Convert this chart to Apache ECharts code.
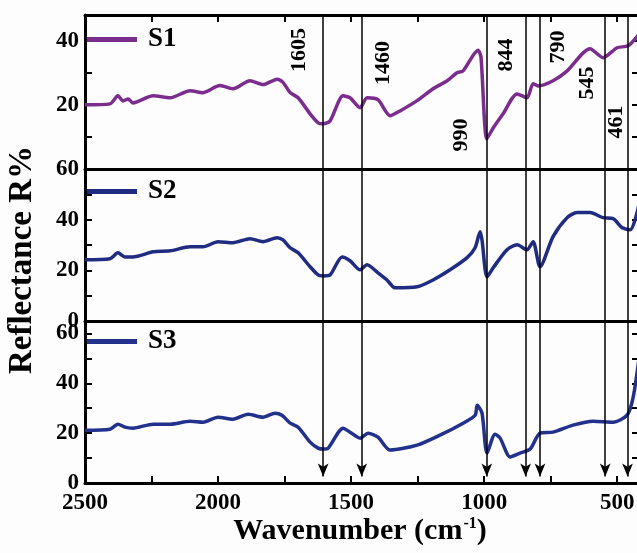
<!DOCTYPE html>
<html><head><meta charset="utf-8">
<script src="https://cdn.jsdelivr.net/npm/echarts@6/dist/echarts.min.js"></script>
<style>html,body{margin:0;padding:0;background:#fdfdfe}#c{width:637px;height:553px}</style>
</head><body><div id="c"></div>
<script>
// ---------- data ----------
const wnS1 = [2500,2406,2376,2357,2338,2320,2244,2180,2105,2056,1993,1944,1880,1831,1778,1756,1729,1699,1654,1624,1605,1579,1530,1504,1466,1440,1399,1353,1316,1252,1192,1139,1102,1079,1023,1012,990,966,929,876,839,816,797,741,688,602,553,500,459,418];
const valS1 = [20,20.3,22.8,21.2,21.8,20.6,22.8,22.2,24.4,23.8,26,25,27.5,26.3,28,27,23.8,22.2,17.2,14.4,14.1,15,22.8,22.2,19.1,22.2,21.6,16.6,18.1,21.3,25,27.5,30,30.6,37,35,9.4,12.8,17.2,23.4,22.2,26.6,25.9,27.5,30.6,37.5,34.7,37.8,38.4,42];
const wnS2 = [2500,2406,2376,2350,2320,2244,2180,2105,2056,2000,1944,1880,1831,1778,1756,1729,1699,1654,1624,1605,1579,1534,1504,1466,1440,1399,1365,1335,1252,1192,1128,1064,1034,1015,1008,989,966,914,876,839,816,790,741,688,651,602,553,515,481,451,418];
const valS2 = [24.2,24.6,26.9,25.3,25.3,27.3,27.7,29.3,29.3,31.3,30.9,32.5,31.3,32.9,32,28.9,26.9,21.4,18.2,17.8,18.2,25.3,23.8,20.2,22.2,19,16.2,13.1,13.5,16.2,20.2,25,28.9,35.2,32,17.4,21,28.1,30.1,28.1,31.3,21.4,33.3,40.8,42.8,42.8,40.8,40.4,36.8,36,46];
const wnS3 = [2500,2406,2376,2350,2320,2244,2180,2105,2056,2000,1944,1887,1831,1786,1760,1729,1699,1654,1624,1605,1586,1530,1504,1466,1436,1399,1353,1252,1166,1079,1034,1026,1008,989,959,940,902,865,827,790,741,666,590,515,463,440,418];
const valS3 = [21.2,21.6,23.6,22.4,22,23.6,23.6,24.8,24.4,26.4,25.6,27.6,26.4,28,27.2,24,22.4,16.4,14,13.6,14,22,20.4,18,20,18.4,13.2,15.2,19.2,24,27.2,31.2,28,12,19.6,18,10.4,12,13.6,20,20.4,23.2,24.8,24.4,27.2,34.4,50];
const seriesNames = ['S1','S2','S3'];
const peakWn = [1605,1460,990,844,790,545,461];
const peakLabels = ['1605','1460','990','844','790','545','461'];
const xTickLabels = [2500,2000,1500,1000,500];
const xTicks = [2500,2250,2000,1750,1500,1250,1000,750,500];
const yLabels = [[20,40],[0,20,40,60],[0,20,40,60]];
const yTicks = [[10,20,30,40],[0,10,20,30,40,50,60],[0,10,20,30,40,50,60]];
const yMax = [48,60,65];

// ---------- layout / style ----------
const FONT = '"Liberation Serif","Times New Roman",serif';
const colors = ['#7b2d8e','#1f2c82','#22318c'];
const XMIN = 418, XMAX = 2500;
const grids = [
  {left:85,right:-2,top:15,height:154,outerBoundsMode:'none',containLabel:false},
  {left:85,right:-2,top:169,height:152,outerBoundsMode:'none',containLabel:false},
  {left:85,right:-2,top:321,height:162,outerBoundsMode:'none',containLabel:false}
];
const legendTops = [26,178,328];
const labelDx = [-24,22,-25,-19,18,-18,-11];
const labelCy = [50,63,135,55,47,83,122];

const zip = (a,b)=>a.map((x,i)=>[x,b[i]]);
const allWn = [wnS1,wnS2,wnS3], allVal=[valS1,valS2,valS3];
const plain = v=>String(v);

const xAxes = [0,1,2].map(i=>({
  type:'value', gridIndex:i, min:XMIN, max:XMAX, inverse:true, position:'bottom',
  splitLine:{show:false},
  axisLine:{show:true,onZero:false,lineStyle:{color:'#000',width:3}},
  axisTick:{show:i===2,inside:true,length:7,customValues:xTicks,lineStyle:{color:'#000',width:2}},
  axisLabel:{show:i===2,customValues:xTickLabels,formatter:plain,margin:9,color:'#000',fontFamily:FONT,fontWeight:'bold',fontSize:23}
}));
xAxes.push({
  type:'value', gridIndex:0, min:XMIN, max:XMAX, inverse:true, position:'top',
  splitLine:{show:false},
  axisLine:{show:true,onZero:false,lineStyle:{color:'#000',width:3}},
  axisTick:{show:true,inside:true,length:7,customValues:xTicks.slice(1),lineStyle:{color:'#000',width:2}},
  axisLabel:{show:false}
});
const yAxes = [];
[0,1,2].forEach(i=>yAxes.push({
  type:'value', gridIndex:i, min:0, max:yMax[i], position:'left',
  splitLine:{show:false},
  axisLine:{show:true,onZero:false,lineStyle:{color:'#000',width:3}},
  axisTick:{show:true,inside:true,length:7,customValues:yTicks[i],lineStyle:{color:'#000',width:2}},
  axisLabel:{show:true,customValues:yLabels[i],formatter:plain,margin:6,color:'#000',fontFamily:FONT,fontWeight:'bold',fontSize:23}
}));
[0,1,2].forEach(i=>yAxes.push({
  type:'value', gridIndex:i, min:0, max:yMax[i], position:'right',
  splitLine:{show:false},
  axisLine:{show:true,onZero:false,lineStyle:{color:'#000',width:3}},
  axisTick:{show:true,inside:true,length:7,customValues:yTicks[i],lineStyle:{color:'#000',width:2}},
  axisLabel:{show:false}
}));

const series = [0,1,2].map(i=>({
  name:seriesNames[i], type:'line', xAxisIndex:i, yAxisIndex:i,
  data:zip(allWn[i],allVal[i]), showSymbol:false, symbol:'none', smooth:0.25,
  lineStyle:{color:colors[i],width:3.5}, itemStyle:{color:colors[i]},
  clip:true, z:3,
  markLine:{
    silent:true, animation:false,
    symbol: i===2 ? ['none','arrow'] : ['none','none'],
    symbolSize:[8,13],
    label:{show:false},
    lineStyle:{color:'#000',width:1.5,type:'solid'},
    emphasis:{disabled:true},
    data: peakWn.map(w=>[{coord:[w,yMax[i]]},{coord:[w, i===2 ? 2.6 : 0]}])
  }
}));

const legends = [0,1,2].map(i=>({
  data:[seriesNames[i]], left:87, top:legendTops[i], padding:0, icon:'rect',
  itemWidth:50, itemHeight:5, itemGap:0, selectedMode:false,
  textStyle:{color:'#000',fontFamily:FONT,fontWeight:'bold',fontSize:27,padding:[0,0,0,6]}
}));

const chart = echarts.init(document.getElementById('c'));
chart.setOption({
  animation:false, backgroundColor:'#fdfdfe',
  grid:grids, xAxis:xAxes, yAxis:yAxes, series:series, legend:legends
});

const gfx = peakWn.map((w,k)=>{
  const px = chart.convertToPixel({xAxisIndex:0}, w);
  return {type:'text', x:px+labelDx[k], y:labelCy[k], rotation:Math.PI/2, z:10,
    style:{text:peakLabels[k], fill:'#000', font:'bold 22px '+FONT, align:'center', verticalAlign:'middle'}};
});
gfx.push({type:'text', x:22, y:260, rotation:Math.PI/2, z:10,
  style:{text:'Reflectance R%', fill:'#000', font:'bold 33px '+FONT, align:'center', verticalAlign:'middle'}});
gfx.push({type:'text', x:360, y:531, z:10,
  style:{text:'Wavenumber (cm{sup|-1})', fill:'#000', font:'bold 30px '+FONT, align:'center', verticalAlign:'middle',
    rich:{sup:{fontSize:16, fontWeight:'bold', fontFamily:FONT, fill:'#000', verticalAlign:'top', lineHeight:30, padding:[0,0,20,1]}}}});
chart.setOption({graphic:gfx});
</script>
</body></html>
